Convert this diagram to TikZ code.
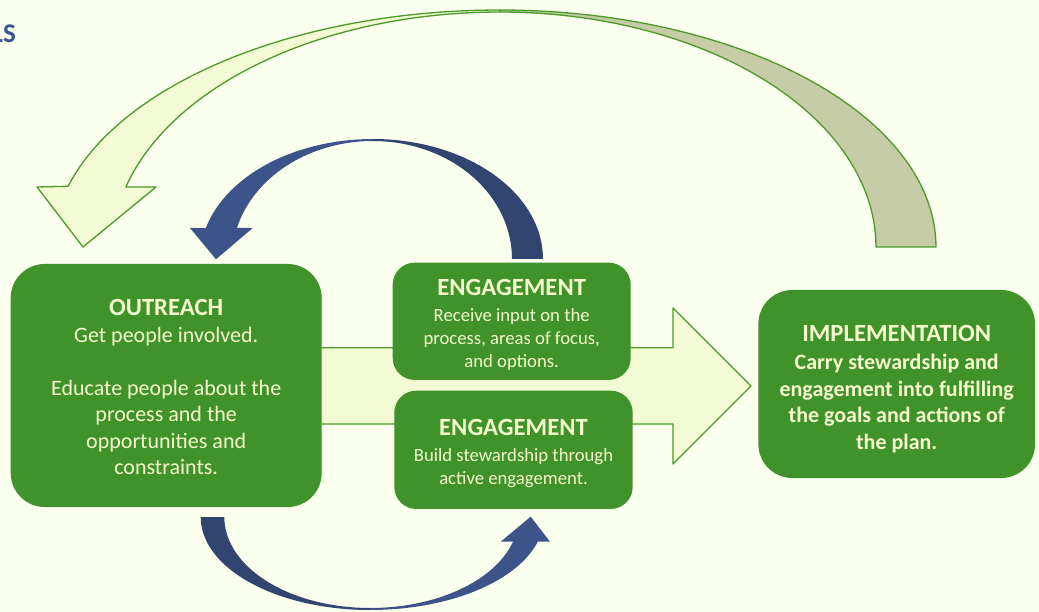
\documentclass[tikz,border=0pt]{standalone}
\usepackage{fontspec}
\setmainfont{Carlito}
\definecolor{bg}{RGB}{250,255,238}
\definecolor{boxgreen}{RGB}{64,146,43}
\definecolor{txt}{RGB}{245,250,205}
\definecolor{lightfill}{RGB}{243,251,212}
\definecolor{darkfill}{RGB}{197,204,166}
\definecolor{outline}{RGB}{76,154,42}
\definecolor{blueL}{RGB}{62,83,138}
\definecolor{blueD}{RGB}{50,68,112}
\definecolor{titleblue}{RGB}{58,82,150}
\newcommand{\boxtitle}[1]{{\bfseries\fontsize{24.7}{27}\selectfont #1}}
\begin{document}
\begin{tikzpicture}[x=1pt,y=-1pt,
  greenbox/.style={fill=boxgreen, text=txt, align=center, inner sep=0pt},
  boxtext/.style={text=txt, align=center, inner sep=0pt},
  bigarrow/.style={draw=outline, line width=1.3pt, line join=round},
  bodyfont/.style={font=\fontsize{22}{26.5}\selectfont},
  smallfont/.style={font=\fontsize{18.7}{23}\selectfont},
  boldfont/.style={font=\bfseries\fontsize{22}{26.5}\selectfont}]
\useasboundingbox (0,0) rectangle (1039,612);
\clip (0,0) rectangle (1039,612);
\fill[bg] (0,0) rectangle (1039,612);

% heading fragment (cut off at the left edge, as in the reference)
\node[anchor=base east, text=titleblue, font=\bfseries\fontsize{27}{30}\selectfont, inner sep=0pt] (head) at (16,43) {LS};

% big straight arrow
\filldraw[bigarrow, fill=lightfill] (300,347.7) -- (673,347.7) -- (673,308) -- (751,386) -- (673,464) -- (673,424) -- (300,424) -- cycle;

% big curved arrow: back (dark) band
\filldraw[bigarrow, fill=darkfill] (876,247) -- (936,247)
  -- plot[domain=0:90, samples=60] ({500+436*cos(\x)},{247-237*sin(\x)})
  -- plot[domain=90:0, samples=60] ({500+376*cos(\x)},{247-235*sin(\x)}) -- cycle;
% front (light) band with head
\filldraw[bigarrow, fill=lightfill] (156,187) -- (126,187)
  -- plot[domain=164.6:90, samples=60] ({500+388*cos(\x)},{250-238*sin(\x)})
  -- plot[domain=90:164.6, samples=60] ({500+448*cos(\x)},{250-240*sin(\x)})
  -- (37,187) -- (83,247) -- cycle;

% top blue curved arrow
\fill[blueD] (511.7,259) -- (542.7,259)
  -- plot[domain=0:90, samples=50] ({373+170*cos(\x)},{259-120*sin(\x)})
  -- plot[domain=90:0, samples=50] ({373+139*cos(\x)},{259-118*sin(\x)}) -- cycle;
\fill[blueL] (252.7,228) -- (237,228)
  -- plot[domain=164.77:90, samples=50] ({373+141*cos(\x)},{259-118*sin(\x)})
  -- plot[domain=90:165.03, samples=50] ({373+173*cos(\x)},{259-120*sin(\x)})
  -- (190,228) -- (216,259.3) -- cycle;

% bottom blue curved arrow
\fill[blueD] (200.7,517) -- (224.3,517)
  -- plot[domain=180:90, samples=50] ({370+145.7*cos(\x)},{517+91*sin(\x)})
  -- plot[domain=90:180, samples=50] ({370+169.3*cos(\x)},{517+93*sin(\x)}) -- cycle;
\fill[blueL] (513,541.7)
  -- plot[domain=15.75:90, samples=50] ({370+148.6*cos(\x)},{517+91*sin(\x)})
  -- plot[domain=90:15.4, samples=50] ({370+174*cos(\x)},{517+93*sin(\x)})
  -- (550,541.7) -- (530.7,516.7) -- (500.7,541.7) -- cycle;

% boxes
\node[greenbox, rounded corners=34pt, minimum width=311pt, minimum height=243pt] (outreach) at (166.2,385.5) {};
\node[boxtext, bodyfont] (outreachtxt) at (166.2,387)
  {\boxtitle{OUTREACH}\\Get people involved.\\[26.5pt]Educate people about the\\process and the\\opportunities and\\constraints.};

\node[greenbox, rounded corners=22pt, minimum width=238pt, minimum height=117.3pt] (eng1) at (511.7,321.3) {};
\node[boxtext, smallfont] (eng1txt) at (511.7,324.5)
  {\boxtitle{ENGAGEMENT}\\[3pt]Receive input on the\\process, areas of focus,\\and options.};

\node[greenbox, rounded corners=22pt, minimum width=238.4pt, minimum height=118.3pt] (eng2) at (513.5,449.8) {};
\node[boxtext, smallfont] (eng2txt) at (513.5,453.5)
  {\boxtitle{ENGAGEMENT}\\[3pt]Build stewardship through\\active engagement.};

\node[greenbox, rounded corners=34pt, minimum width=276.7pt, minimum height=188pt] (impl) at (896.7,384) {};
\node[boxtext, boldfont] (impltxt) at (896.7,389)
  {\boxtitle{IMPLEMENTATION}\\[1.5pt]Carry stewardship and\\engagement into fulfilling\\the goals and actions of\\the plan.};
\end{tikzpicture}
\end{document}
